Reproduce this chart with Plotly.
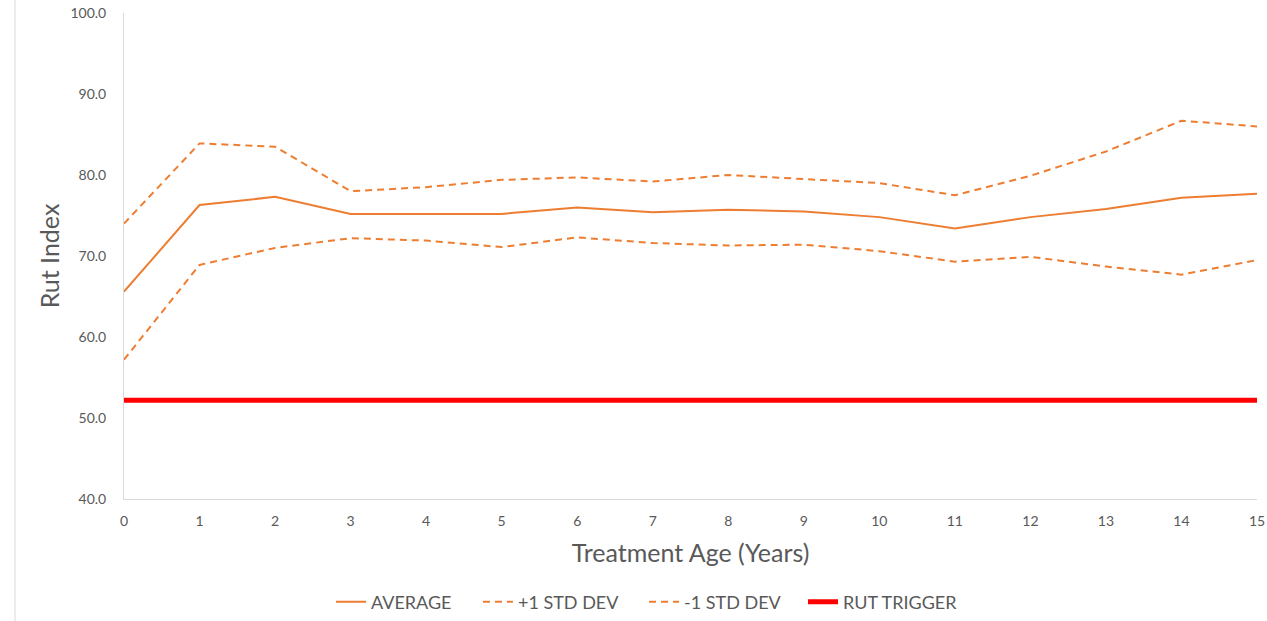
import plotly.graph_objects as go

years = list(range(16))
average = [65.6, 76.3, 77.3, 75.2, 75.2, 75.2, 76.0, 75.4, 75.7, 75.5, 74.8, 73.4, 74.8, 75.8, 77.2, 77.7]
plus_std = [74.0, 83.9, 83.5, 78.0, 78.5, 79.4, 79.7, 79.2, 80.0, 79.5, 79.0, 77.5, 79.9, 82.9, 86.7, 86.0]
minus_std = [57.2, 68.9, 71.0, 72.2, 71.9, 71.1, 72.3, 71.6, 71.3, 71.4, 70.6, 69.3, 69.9, 68.7, 67.7, 69.5]
rut_trigger = [52.2] * 16

ORANGE = "#ED7D31"
GRAY = "#595959"
FONT = "Lato"

fig = go.Figure()
fig.add_trace(go.Scatter(x=years, y=average, mode="lines", name="AVERAGE", legend="legend",
                         line=dict(color=ORANGE, width=2)))
fig.add_trace(go.Scatter(x=years, y=plus_std, mode="lines", name="+1 STD DEV", legend="legend2",
                         line=dict(color=ORANGE, width=2, dash="7px,5px")))
fig.add_trace(go.Scatter(x=years, y=minus_std, mode="lines", name="-1 STD DEV", legend="legend3",
                         line=dict(color=ORANGE, width=2, dash="7px,5px")))
fig.add_trace(go.Scatter(x=years, y=rut_trigger, mode="lines", name="RUT TRIGGER", legend="legend4",
                         line=dict(color="#FF0000", width=5)))

def leg(x):
    return dict(orientation="h", x=x, xanchor="left", y=-0.212, yanchor="middle",
                font=dict(size=18, color=GRAY), itemwidth=30, bgcolor="rgba(0,0,0,0)")

fig.update_layout(
    width=1267, height=621,
    margin=dict(l=124, r=10, t=13, b=122, autoexpand=False),
    plot_bgcolor="white", paper_bgcolor="white",
    font=dict(family=FONT, color=GRAY),
    showlegend=True,
    legend=leg(0.1827), legend2=leg(0.3124), legend3=leg(0.4590), legend4=leg(0.5993),
    xaxis=dict(range=[0, 15], tickmode="linear", tick0=0, dtick=1, automargin=False,
               ticklabeloverflow="allow",
               showgrid=False, zeroline=False, showline=True, linecolor="#D9D9D9", linewidth=1,
               tickfont=dict(size=14, color=GRAY), ticks="", ticklabelstandoff=9,
               title=dict(text="Treatment Age (Years)", font=dict(size=25, color=GRAY), standoff=16)),
    yaxis=dict(range=[40, 100], tickmode="linear", tick0=40, dtick=10, tickformat=".1f",
               automargin=False, ticklabeloverflow="allow",
               showgrid=False, zeroline=False, showline=True, linecolor="#D9D9D9", linewidth=1,
               tickfont=dict(size=14, color=GRAY), ticks="", ticklabelstandoff=14,
               title=dict(text="Rut Index", font=dict(size=25, color=GRAY), standoff=3)),
)

fig.add_shape(type="line", xref="paper", yref="paper",
              x0=-0.0962, x1=-0.0962, y0=1.03, y1=-0.26,
              line=dict(color="#D9D9D9", width=1))

fig.write_html("out.html", config={"displayModeBar": False},
               post_script="document.body.style.margin='0';")
